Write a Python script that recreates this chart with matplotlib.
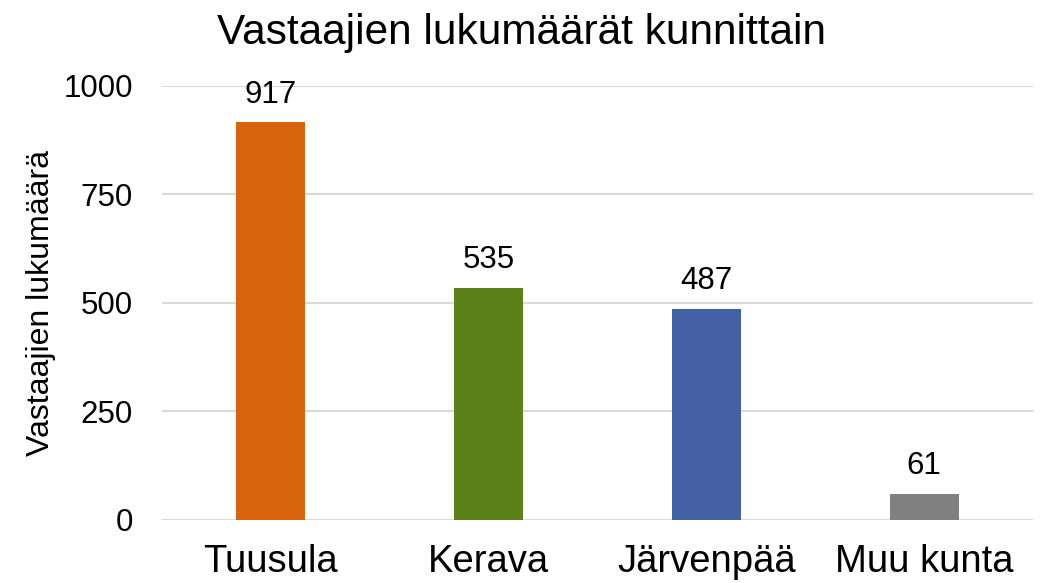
import matplotlib.pyplot as plt

plt.rcParams['font.family'] = ['Liberation Sans', 'DejaVu Sans']

kunnat = ["Tuusula", "Kerava", "Järvenpää", "Muu kunta"]
lukumaarat = [917, 535, 487, 61]
varit = ["#D9640E", "#5B8219", "#4360A4", "#808080"]
yticks = [0, 250, 500, 750, 1000]

fig = plt.figure(figsize=(10.43, 5.83), dpi=100)
ax = fig.add_axes([0.1553, 0.1081, 0.8351, 0.7444])

x = range(len(kunnat))
bars = ax.bar(x, lukumaarat, width=0.317, color=varit, zorder=3)
for b, v in zip(bars, lukumaarat):
    ax.annotate(str(v), (b.get_x() + b.get_width() / 2, v), xytext=(0, 9),
                textcoords="offset points", ha="center", va="bottom", fontsize=22.5)

ax.set_xlim(-0.5, len(kunnat) - 0.5)
ax.set_ylim(0, 1000)
ax.set_yticks(yticks)
ax.set_xticks(list(x))
ax.set_xticklabels(kunnat, fontsize=27.5)
ax.tick_params(axis="y", labelsize=22.5, length=0, pad=21)
ax.tick_params(axis="x", length=0, pad=17)
ax.grid(axis="y", color="#D9D9D9", linewidth=1.5, zorder=0)
for s in ax.spines.values():
    s.set_visible(False)

ax.set_ylabel("Vastaajien lukumäärä", fontsize=23, labelpad=5)
fig.suptitle("Vastaajien lukumäärät kunnittain", fontsize=30.5, y=0.978)

fig.savefig("out.png", dpi=100)
